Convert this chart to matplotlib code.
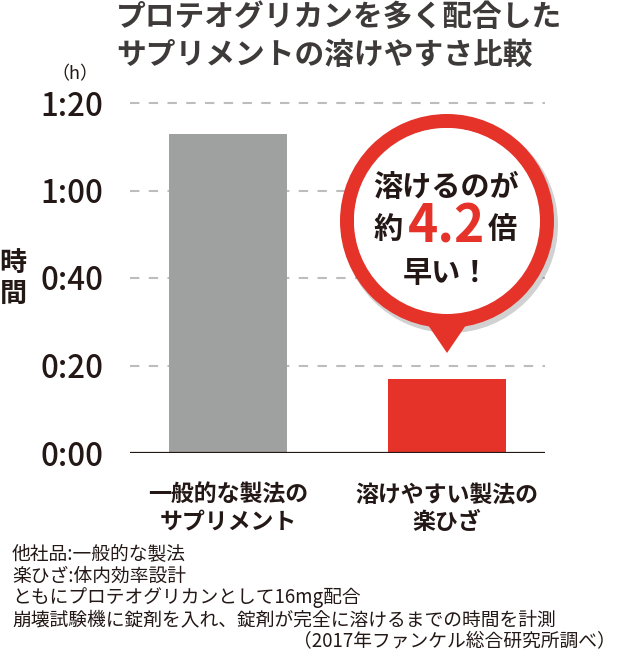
import matplotlib
matplotlib.use("Agg")
import matplotlib.pyplot as plt
from matplotlib.patches import Circle, Polygon

plt.rcParams['font.family'] = ['Noto Sans CJK JP', 'DejaVu Sans']

# データ（分）
categories = ["一般的な製法の\nサプリメント", "溶けやすい製法の\n楽ひざ"]
minutes = [73, 17]
bar_colors = ["#9fa0a0", "#e6332a"]
yticks = [0, 20, 40, 60, 80]
ytick_labels = ["0:00", "0:20", "0:40", "1:00", "1:20"]

title_lines = ["プロテオグリカンを多く配合した", "サプリメントの溶けやすさ比較"]
notes = [
    "他社品:一般的な製法",
    "楽ひざ:体内効率設計",
    "ともにプロテオグリカンとして16mg配合",
    "崩壊試験機に錠剤を入れ、錠剤が完全に溶けるまでの時間を計測",
]
source = "（2017年ファンケル総合研究所調べ）"

ink = "#231815"
red = "#e6332a"

W, H = 618, 663
fig = plt.figure(figsize=(W / 100, H / 100), dpi=100)

# 本体のグラフ
ax = fig.add_axes([130 / W, (H - 453) / H, 415 / W, (453 - 94.25) / H])
x = [0, 1]
ax.bar(x, minutes, width=0.54, color=bar_colors, zorder=3)
ax.set_xlim(-0.4475, 1.4475)
ax.set_ylim(0, 82)
ax.set_yticks(yticks)
ax.set_yticklabels(ytick_labels, fontsize=22.5, color=ink, fontweight="medium")
ax.set_xticks(x)
ax.set_xticklabels(categories, fontsize=16.5, color=ink, fontweight="bold", linespacing=1.25)
ax.tick_params(axis="both", length=0)
ax.tick_params(axis="y", pad=19)
ax.tick_params(axis="x", pad=22)
for s in ax.spines.values():
    s.set_visible(False)
for t in yticks[1:]:
    ax.axhline(t, color="#bdbdbd", lw=1.5, ls=(0, (4.5, 4.5)), zorder=1)
ax.axhline(0, color=ink, lw=1.6, zorder=4)

# 吹き出しや文字（ピクセル座標）
ov = fig.add_axes([0, 0, 1, 1], facecolor="none")
ov.set_xlim(0, W)
ov.set_ylim(H, 0)
ov.axis("off")

cx, cy, r = 447, 221, 107
ov.add_patch(Circle((cx + 3, cy + 4), r + 1, color="#000000", alpha=0.18, lw=0))
ov.add_patch(Polygon([(cx - 36, 300), (cx + 36, 300), (cx, 353)], closed=True, color=red, lw=0))
ov.add_patch(Circle((cx, cy), r, color=red, lw=0))
ov.add_patch(Circle((cx - 1, cy - 1), r - 15, color="#cfcfcf", lw=0))
ov.add_patch(Circle((cx, cy), r - 14, color="white", lw=0))

ov.text(446, 187, "溶けるのが", fontsize=21, fontweight="bold", color=ink, ha="center", va="center")
ov.text(388, 229, "約", fontsize=21, fontweight="bold", color=ink, ha="center", va="center")
ov.text(447, 227, "4.2", fontsize=37, fontweight="bold", color=red, ha="center", va="center")
ov.text(502, 229, "倍", fontsize=21, fontweight="bold", color=ink, ha="center", va="center")
ov.text(446, 273, "早い！", fontsize=21, fontweight="bold", color=ink, ha="center", va="center")

ov.text(116, 17, title_lines[0], fontsize=21.4, fontweight="bold", color="#3e3a39", ha="left", va="center")
ov.text(116, 55, title_lines[1], fontsize=21.4, fontweight="bold", color="#3e3a39", ha="left", va="center")

ov.text(75, 74, "（h）", fontsize=13, color=ink, ha="center", va="center")
ov.text(13, 263, "時", fontsize=19.5, fontweight="bold", color=ink, ha="center", va="center")
ov.text(13, 294, "間", fontsize=19.5, fontweight="bold", color=ink, ha="center", va="center")

for i, line in enumerate(notes):
    ov.text(12, 554 + i * 22, line, fontsize=13.5, color=ink, ha="left", va="center")
ov.text(616, 642, source, fontsize=13.5, color=ink, ha="right", va="center")

fig.savefig("out.png", dpi=100)
